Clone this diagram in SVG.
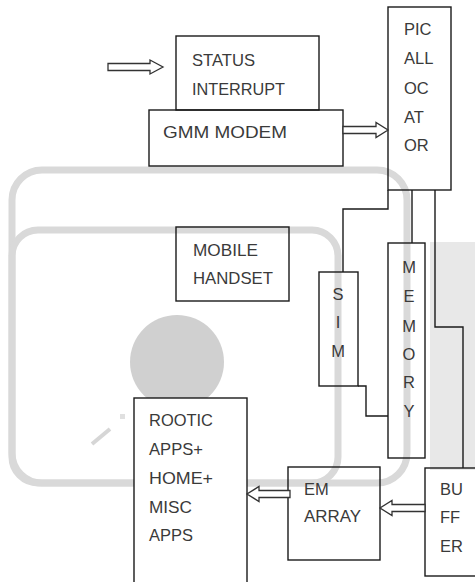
<svg xmlns="http://www.w3.org/2000/svg" width="475" height="582" viewBox="0 0 475 582">
<style>
.box{fill:none;stroke:#1a1a1a;stroke-width:1.4}
.wbox{fill:#fff;stroke:#1a1a1a;stroke-width:1.4}
.t{font-family:"Liberation Sans",Arial,sans-serif;font-size:16.5px;fill:#3a3a3a}
.tc{font-family:"Liberation Sans",Arial,sans-serif;font-size:16.5px;fill:#3a3a3a;text-anchor:middle}
.line{fill:none;stroke:#1a1a1a;stroke-width:1.4}
.harrow{fill:#fff;stroke:#333;stroke-width:1.3}
.wm{fill:none;stroke:#d9d9d9;stroke-width:7}
</style>
<rect width="475" height="582" fill="#fff"/>
<g id="watermark">
<rect x="430" y="242" width="45" height="228" fill="#e8e8e8"/>
<rect x="12" y="170" width="395" height="313" rx="30" class="wm"/>
<rect x="12" y="230" width="326" height="253" rx="26" class="wm"/>
<circle cx="177" cy="362" r="47" fill="#d0d0d0"/>
<line x1="92" y1="444" x2="110" y2="429" stroke="#d6d6d6" stroke-width="4"/>
<rect x="120" y="414" width="5" height="5" fill="#e0e0e0"/>
</g>
<g id="status-interrupt">
<rect x="176" y="36" width="143" height="74" class="box"/>
<text x="192" y="66" class="t" textLength="63" lengthAdjust="spacingAndGlyphs">STATUS</text>
<text x="192" y="95" class="t" textLength="93" lengthAdjust="spacingAndGlyphs">INTERRUPT</text>
</g>
<g id="gmm-modem">
<rect x="149" y="110" width="194" height="56" class="box"/>
<text x="163" y="138" class="t" textLength="124" lengthAdjust="spacingAndGlyphs">GMM MODEM</text>
</g>
<g id="pic-allocator">
<rect x="388" y="7" width="63" height="183" class="box"/>
<text x="404" y="35" class="t">PIC</text>
<text x="404" y="64" class="t">ALL</text>
<text x="404" y="94" class="t">OC</text>
<text x="404" y="123" class="t">AT</text>
<text x="404" y="151" class="t">OR</text>
</g>
<g id="mobile-handset">
<rect x="176" y="227" width="113" height="74" class="box"/>
<text x="193" y="256" class="t" textLength="65" lengthAdjust="spacingAndGlyphs">MOBILE</text>
<text x="193" y="284" class="t" textLength="80" lengthAdjust="spacingAndGlyphs">HANDSET</text>
</g>
<g id="sim">
<rect x="319" y="272" width="39" height="114" class="box"/>
<text x="338" y="300" class="tc">S</text>
<text x="338" y="328" class="tc">I</text>
<text x="338" y="357" class="tc">M</text>
</g>
<g id="memory">
<rect x="388" y="243" width="37" height="215" class="box"/>
<text x="409" y="273" class="tc">M</text>
<text x="409" y="302" class="tc">E</text>
<text x="409" y="332" class="tc">M</text>
<text x="409" y="360" class="tc">O</text>
<text x="409" y="388" class="tc">R</text>
<text x="409" y="417" class="tc">Y</text>
</g>
<g id="rootic-apps">
<rect x="134" y="398" width="113" height="190" class="wbox"/>
<text x="149" y="426" class="t" textLength="64" lengthAdjust="spacingAndGlyphs">ROOTIC</text>
<text x="149" y="455" class="t" textLength="54" lengthAdjust="spacingAndGlyphs">APPS+</text>
<text x="149" y="484" class="t" textLength="64" lengthAdjust="spacingAndGlyphs">HOME+</text>
<text x="149" y="513" class="t" textLength="43" lengthAdjust="spacingAndGlyphs">MISC</text>
<text x="149" y="541" class="t" textLength="44" lengthAdjust="spacingAndGlyphs">APPS</text>
</g>
<g id="em-array">
<rect x="288" y="467" width="92" height="93" class="box"/>
<text x="304" y="495" class="t">EM</text>
<text x="304" y="522" class="t" textLength="57" lengthAdjust="spacingAndGlyphs">ARRAY</text>
</g>
<g id="buffer">
<rect x="425" y="468" width="52" height="108" class="box"/>
<text x="440" y="495" class="t">BU</text>
<text x="440" y="523" class="t">FF</text>
<text x="440" y="552" class="t">ER</text>
</g>
<g id="connectors">
<polygon class="harrow" points="108,63.5 150,63.5 150,60 163,67 150,74 150,70.5 108,70.5"/>
<polygon class="harrow" points="343,126.5 376,126.5 376,122.5 388,130 376,137.5 376,133.5 343,133.5"/>
<polygon class="harrow" points="425,504.5 392,504.5 392,500.5 380,508 392,515.5 392,511.5 425,511.5"/>
<polygon class="harrow" points="290,490.5 259,490.5 259,486.5 247,494 259,501.5 259,497.5 290,497.5"/>
<polyline class="line" points="388,190 388,209 343,209 343,272"/>
<line class="line" x1="412" y1="190" x2="412" y2="243"/>
<polyline class="line" points="435,190 435,327 463,327 463,468"/>
<polyline class="line" points="358,386 366,386 366,416 388,416"/>
</g>
</svg>
